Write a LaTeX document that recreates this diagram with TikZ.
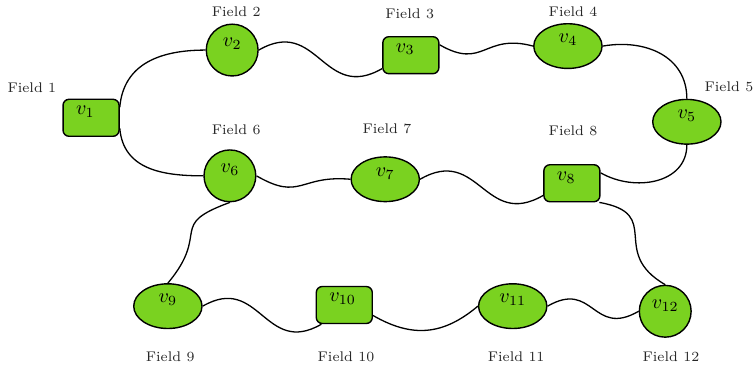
\documentclass[tikz,border=0pt]{standalone}
\usepackage{amsmath}
\usepackage{amssymb}
\usepackage{tikz}
\usepackage{xcolor}
\usetikzlibrary{shapes, positioning}

\definecolor{fieldgreen}{RGB}{122,210,32}

\begin{document}
\begin{tikzpicture}[
        vertex/.style={draw, fill=fieldgreen, line width=0.7pt, text depth=7.5pt, inner sep=2pt},
        fbox/.style={vertex, rectangle, rounded corners=3pt, minimum width=0.98cm, minimum height=0.65cm, text width=15pt, inner xsep=6.5pt, align=left},
        fcirc/.style={vertex, circle, minimum size=0.91cm},
        foval/.style={vertex, ellipse, minimum width=1.2cm, minimum height=0.72cm},
        flabel/.style={font=\scriptsize, text=black!85},
        link/.style={line width=0.65pt}
    ]
        \useasboundingbox (0, 0) rectangle (13.25, -6.50);

        \node[fbox] (v1) at (1.60, -2.07) {$v_1$};
        \node[fcirc] (v2) at (4.08, -0.88) {$v_2$};
        \node[fbox] (v3) at (7.22, -0.97) {$v_3$};
        \node[foval] (v4) at (9.98, -0.81) {$v_4$};
        \node[foval] (v5) at (12.07, -2.14) {$v_5$};
        \node[fcirc] (v6) at (4.04, -3.09) {$v_6$};
        \node[foval] (v7) at (6.77, -3.15) {$v_7$};
        \node[fbox] (v8) at (10.05, -3.22) {$v_8$};
        \node[foval] (v9) at (2.95, -5.38) {$v_9$};
        \node[fbox] (v10) at (6.05, -5.36) {$v_{10}$};
        \node[foval] (v11) at (9.01, -5.38) {$v_{11}$};
        \node[fcirc] (v12) at (11.69, -5.47) {$v_{12}$};

        \node[flabel] (f1) at (0.56, -1.55) {Field 1};
        \node[flabel] (f2) at (4.15, -0.21) {Field 2};
        \node[flabel] (f3) at (7.20, -0.25) {Field 3};
        \node[flabel] (f4) at (10.07, -0.21) {Field 4};
        \node[flabel] (f5) at (12.81, -1.53) {Field 5};
        \node[flabel] (f6) at (4.15, -2.28) {Field 6};
        \node[flabel] (f7) at (6.80, -2.27) {Field 7};
        \node[flabel] (f8) at (10.07, -2.30) {Field 8};
        \node[flabel] (f9) at (2.99, -6.27) {Field 9};
        \node[flabel] (f10) at (6.08, -6.27) {Field 10};
        \node[flabel] (f11) at (9.07, -6.27) {Field 11};
        \node[flabel] (f12) at (11.79, -6.27) {Field 12};

        \draw[link] (v1.20) to[out=85, in=180, looseness=1.1] (v2.west);
        \draw[link] (v1.-20) to[out=-85, in=180, looseness=1.1] (v6.west);
        \draw[link] (v2.east) to[out=30, in=210, looseness=1.4] (v3.205);
        \draw[link] (v3.20) to[out=-30, in=165, looseness=1.4] (v4.west);
        \draw[link] (v4.east) to[out=10, in=90, looseness=1.1] (v5.north);
        \draw[link] (v5.south) to[out=-90, in=-30, looseness=1.1] (v8.20);
        \draw[link] (v6.east) to[out=-30, in=175, looseness=1.4] (v7.west);
        \draw[link] (v7.east) to[out=30, in=210, looseness=1.4] (v8.203);
        \draw[link] (v6.south) to[out=200, in=50, looseness=1.7] (v9.north);
        \draw[link] (v8.-35) to[out=-10, in=150, looseness=1.6] (v12.north);
        \draw[link] (v9.east) to[out=30, in=210, looseness=1.4] (v10.220);
        \draw[link] (v10.-20) to[out=-30, in=220, looseness=1.1] (v11.west);
        \draw[link] (v11.east) to[out=30, in=210, looseness=1.5] (v12.west);
    \end{tikzpicture}
\end{document}
